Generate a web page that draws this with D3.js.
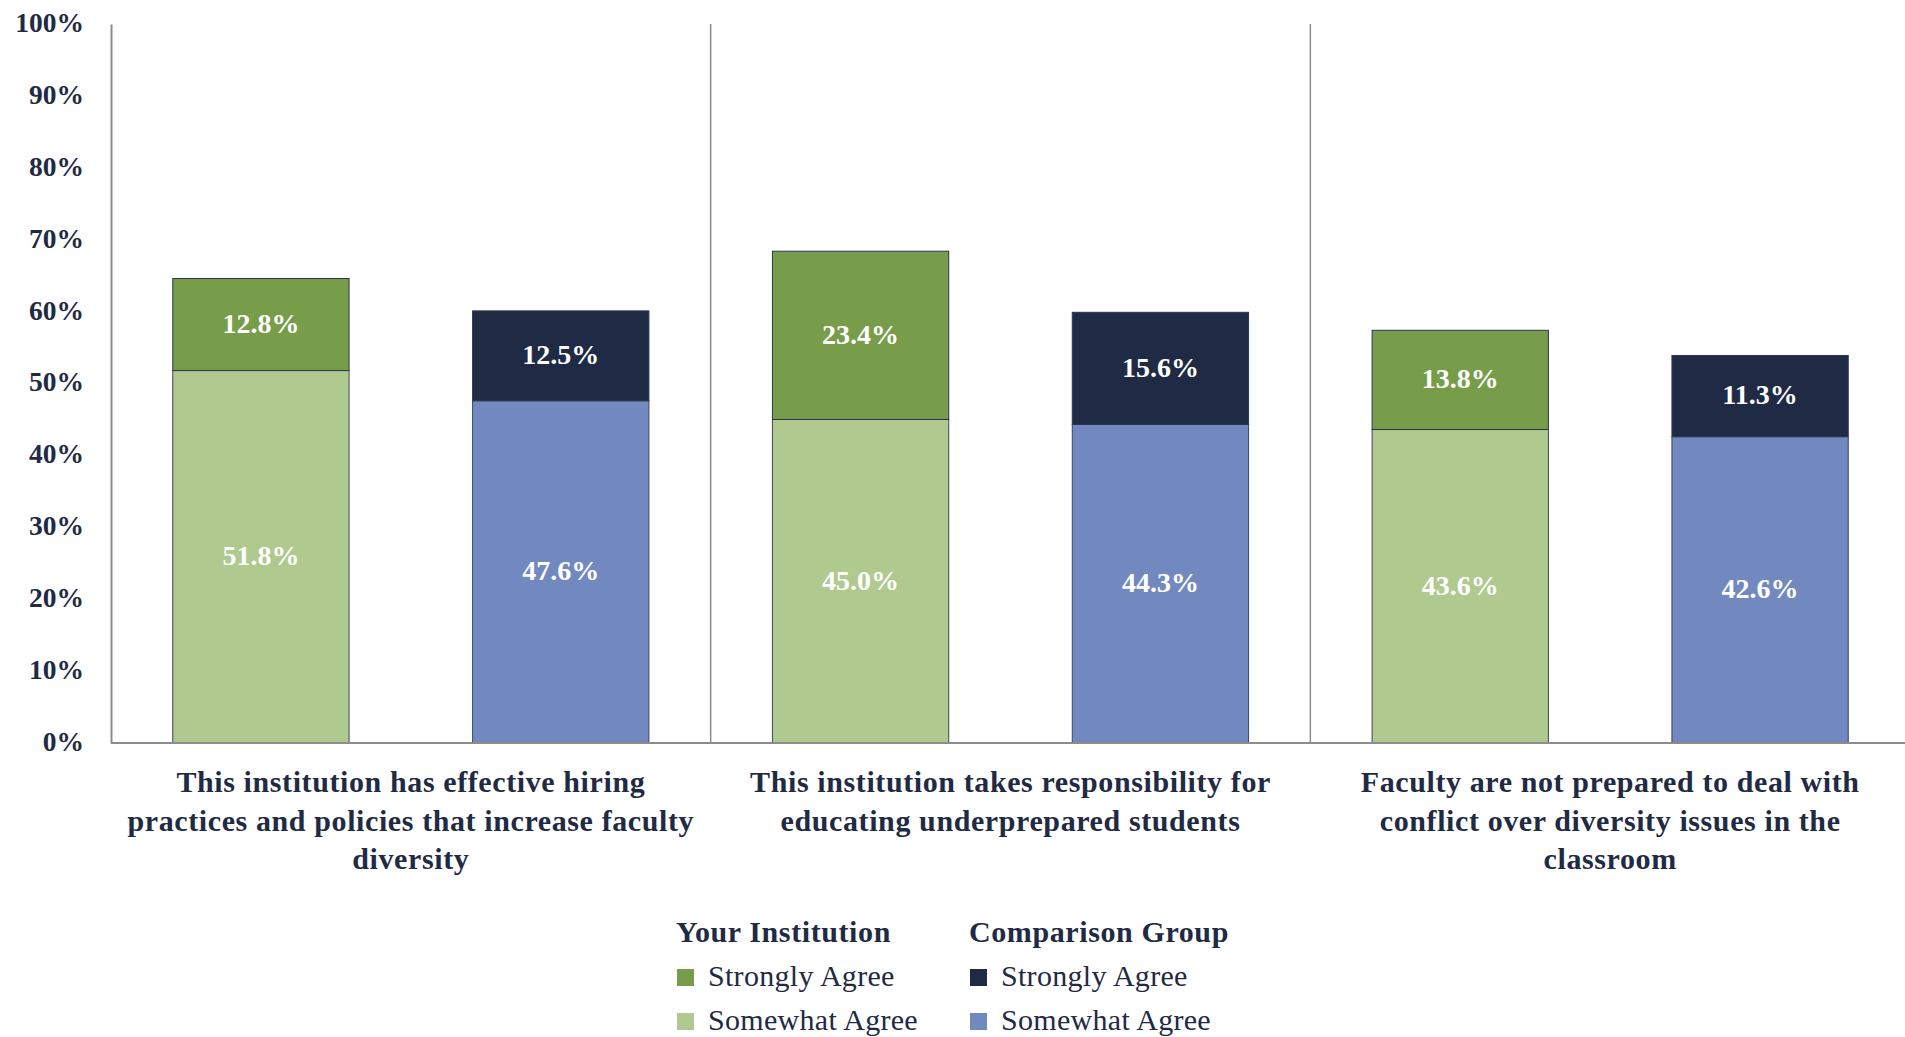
<!DOCTYPE html>
<html>
<head>
<meta charset="utf-8">
<script src="https://cdn.jsdelivr.net/npm/d3@7"></script>
<style>
  body { margin: 0; background: #fff; }
  svg text { font-family: "Liberation Serif", "DejaVu Serif", serif; }
</style>
</head>
<body>
<svg></svg>
<script>
// data
var categories = ["c1", "c2", "c3"];
var categoryLines = [
    ["This institution has effective hiring", "practices and policies that increase faculty", "diversity"],
    ["This institution takes responsibility for", "educating underprepared students"],
    ["Faculty are not prepared to deal with", "conflict over diversity issues in the", "classroom"]
];
var groups = ["Your Institution", "Comparison Group"];
var yourSomewhat = [51.8, 45.0, 43.6];
var yourStrongly = [12.8, 23.4, 13.8];
var compSomewhat = [47.6, 44.3, 42.6];
var compStrongly = [12.5, 15.6, 11.3];
var yTicks = [0, 10, 20, 30, 40, 50, 60, 70, 80, 90, 100];

var colors = {
    "Your Institution": ["#afc98e", "#789d4a"],
    "Comparison Group": ["#7289c0", "#1f2a44"]
};
var ink = "#1f2a44";

var width = 1905,
    height = 1037,
    margin = {top: 24, right: -5, bottom: 294, left: 111},
    fmt = function(v) { return v.toFixed(1) + "%"; };

var svg = d3.select("svg")
    .attr("width", width)
    .attr("height", height);

var plotW = width - margin.left - margin.right,
    plotH = height - margin.top - margin.bottom;

var g = svg.append("g")
    .attr("transform", "translate(" + margin.left + "," + margin.top + ")");

var x0 = d3.scaleBand()
    .domain(categories)
    .range([0, plotW])
    .paddingInner(0)
    .paddingOuter(0);

// bar 176, gap 124, outer 62 within a 600px category
var x1 = d3.scaleBand()
    .domain(groups)
    .range([0, x0.bandwidth()])
    .paddingInner(0.412)
    .paddingOuter(0.206);

var y = d3.scaleLinear()
    .domain([0, 100])
    .range([plotH, 0]);

// build stacked rows
var rows = [];
categories.forEach(function(c, i) {
    rows.push({cat: c, group: groups[0], somewhat: yourSomewhat[i], strongly: yourStrongly[i]});
    rows.push({cat: c, group: groups[1], somewhat: compSomewhat[i], strongly: compStrongly[i]});
});

// y axis
var yAxis = g.append("g")
    .call(d3.axisLeft(y).tickValues(yTicks).tickSize(0).tickPadding(27)
        .tickFormat(function(d) { return d + "%"; }));
yAxis.select(".domain").attr("stroke", "#8c8c8c").attr("stroke-width", 2);
yAxis.selectAll("text")
    .attr("fill", ink)
    .style("font-size", "27.5px")
    .style("font-weight", "bold")
    .attr("dy", "0.27em");

// category dividers
g.selectAll(".divider")
    .data(categories.slice(1))
    .enter().append("line")
    .attr("class", "divider")
    .attr("x1", function(d) { return x0(d); })
    .attr("x2", function(d) { return x0(d); })
    .attr("y1", 0)
    .attr("y2", plotH)
    .attr("stroke", "#8c8c8c")
    .attr("stroke-width", 1.5);

// bars
var bar = g.selectAll(".bar")
    .data(rows)
    .enter().append("g")
    .attr("class", "bar")
    .attr("transform", function(d) { return "translate(" + (x0(d.cat) + x1(d.group)) + ",0)"; });

bar.append("rect")
    .attr("y", function(d) { return y(d.somewhat); })
    .attr("width", x1.bandwidth())
    .attr("height", function(d) { return y(0) - y(d.somewhat); })
    .attr("fill", function(d) { return colors[d.group][0]; })
    .attr("stroke", "#3b4660")
    .attr("stroke-width", 1);

bar.append("rect")
    .attr("y", function(d) { return y(d.somewhat + d.strongly); })
    .attr("width", x1.bandwidth())
    .attr("height", function(d) { return y(d.somewhat) - y(d.somewhat + d.strongly); })
    .attr("fill", function(d) { return colors[d.group][1]; })
    .attr("stroke", "#2b3650")
    .attr("stroke-width", 1);

bar.append("text")
    .attr("x", x1.bandwidth() / 2)
    .attr("y", function(d) { return y(d.somewhat / 2); })
    .attr("dy", "0.3em")
    .attr("text-anchor", "middle")
    .attr("fill", "#fff")
    .style("font-size", "28px")
    .style("font-weight", "bold")
    .text(function(d) { return fmt(d.somewhat); });

bar.append("text")
    .attr("x", x1.bandwidth() / 2)
    .attr("y", function(d) { return y(d.somewhat + d.strongly / 2); })
    .attr("dy", "0.3em")
    .attr("text-anchor", "middle")
    .attr("fill", "#fff")
    .style("font-size", "28px")
    .style("font-weight", "bold")
    .text(function(d) { return fmt(d.strongly); });

// baseline
g.append("line")
    .attr("x1", 0)
    .attr("x2", plotW)
    .attr("y1", plotH)
    .attr("y2", plotH)
    .attr("stroke", "#8c8c8c")
    .attr("stroke-width", 2);

// category labels
var catLabel = g.selectAll(".catlabel")
    .data(categories)
    .enter().append("text")
    .attr("class", "catlabel")
    .attr("text-anchor", "middle")
    .attr("fill", ink)
    .style("font-size", "30px")
    .style("font-weight", "bold")
    .style("letter-spacing", "0.6px")
    .attr("transform", function(d) { return "translate(" + (x0(d) + x0.bandwidth() / 2) + "," + (plotH + 49) + ")"; });

catLabel.selectAll("tspan")
    .data(function(d, i) { return categoryLines[i]; })
    .enter().append("tspan")
    .attr("x", 0)
    .attr("dy", function(d, i) { return i === 0 ? 0 : 38.5; })
    .text(function(d) { return d; });

// legend
var legend = svg.append("g")
    .attr("transform", "translate(676,942)");

var legendCol = legend.selectAll(".lcol")
    .data(groups)
    .enter().append("g")
    .attr("class", "lcol")
    .attr("transform", function(d, i) { return "translate(" + (i * 293) + ",0)"; });

legendCol.append("text")
    .attr("fill", ink)
    .style("font-size", "30px")
    .style("font-weight", "bold")
    .style("letter-spacing", "0.6px")
    .text(function(d) { return d; });

var items = legendCol.selectAll(".litem")
    .data(function(d) {
        return [
            {name: "Strongly Agree", color: colors[d][1]},
            {name: "Somewhat Agree", color: colors[d][0]}
        ];
    })
    .enter().append("g")
    .attr("class", "litem")
    .attr("transform", function(d, i) { return "translate(0," + (44 + i * 44) + ")"; });

items.append("rect")
    .attr("x", 1)
    .attr("y", -17)
    .attr("width", 17)
    .attr("height", 17)
    .attr("fill", function(d) { return d.color; });

items.append("text")
    .attr("x", 32)
    .attr("fill", ink)
    .style("font-size", "30px")
    .style("letter-spacing", "0.3px")
    .text(function(d) { return d.name; });
</script>
</body>
</html>
